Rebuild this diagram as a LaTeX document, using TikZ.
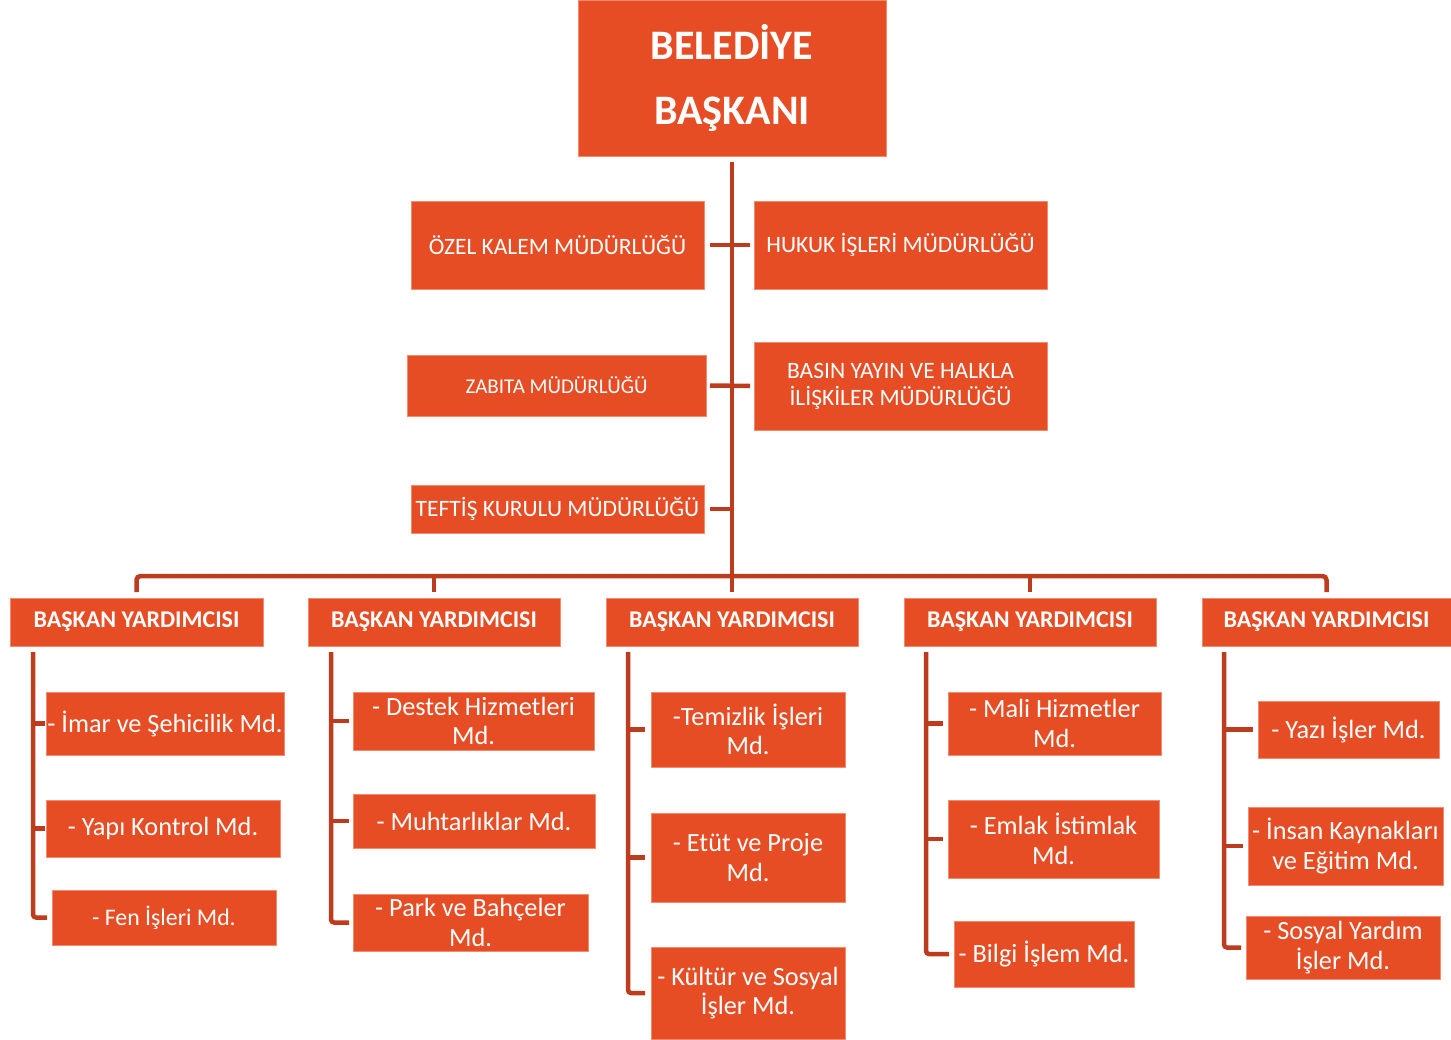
\documentclass[tikz,border=0pt]{standalone}
\usepackage{fontspec}
\setmainfont{Carlito}
\definecolor{boxfill}{RGB}{230,77,36}
\definecolor{boxline}{RGB}{242,140,110}
\definecolor{conncol}{RGB}{190,60,30}
\tikzset{
  box/.style={fill=boxfill, draw=boxline, line width=0.8pt, text=white,
    inner sep=0pt, outer sep=0pt, align=center},
  conn/.style={draw=conncol, line width=4.5pt},
  toptext/.style={font=\bfseries\fontsize{42}{65}\selectfont},
  bytext/.style={font=\bfseries\fontsize{24}{28}\selectfont},
  midtext/.style={font=\fontsize{23.5}{27}\selectfont},
  smalltext/.style={font=\fontsize{21}{25}\selectfont},
  subtext/.style={font=\fontsize{26.3}{29.5}\selectfont},
  fentext/.style={font=\fontsize{23.8}{28}\selectfont},
}
\newcommand\orgbox[7][]{\node[box,#1,minimum width={(#5-#3)*1pt},minimum height={(#6-#4)*1pt}] (#2) at ({(#3+#5)/2},{(#4+#6)/2}) {#7};}
\begin{document}
\begin{tikzpicture}[x=1pt,y=-1pt]
\useasboundingbox (0,0) rectangle (1451,1039);
% top level
\orgbox[toptext]{top}{578}{0}{886}{156}{BELEDİYE\\BAŞKANI}
\orgbox[midtext]{ozel}{411}{201}{704}{289}{ÖZEL KALEM MÜDÜRLÜĞÜ}
\orgbox[midtext]{hukuk}{754}{201}{1047}{289}{HUKUK İŞLERİ MÜDÜRLÜĞÜ}
\orgbox[smalltext]{zabita}{407}{355}{706}{416}{ZABITA MÜDÜRLÜĞÜ}
\orgbox[midtext]{basin}{754}{342}{1047}{430}{BASIN YAYIN VE HALKLA\\İLİŞKİLER MÜDÜRLÜĞÜ}
\orgbox[midtext]{teftis}{411}{485}{704}{533}{TEFTİŞ KURULU MÜDÜRLÜĞÜ}
% vice presidents
\orgbox[bytext]{by1}{10}{598}{263}{646}{BAŞKAN YARDIMCISI}
\orgbox[bytext]{by2}{308}{598}{560}{646}{BAŞKAN YARDIMCISI}
\orgbox[bytext]{by3}{606}{598}{858}{646}{BAŞKAN YARDIMCISI}
\orgbox[bytext]{by4}{904}{598}{1156}{646}{BAŞKAN YARDIMCISI}
\orgbox[bytext]{by5}{1202}{598}{1451}{646}{BAŞKAN YARDIMCISI}
% column 1
\orgbox[subtext]{imar}{46}{692}{284}{755}{- İmar ve Şehicilik Md.}
\orgbox[subtext]{yapi}{46}{800}{280}{857}{- Yapı Kontrol Md.}
\orgbox[fentext]{fen}{52}{890}{276}{945}{- Fen İşleri Md.}
% column 2
\orgbox[subtext]{destek}{353}{692}{594}{750}{- Destek Hizmetleri\\Md.}
\orgbox[subtext]{muhtar}{353}{794}{595}{848}{- Muhtarlıklar Md.}
\orgbox[subtext]{park}{353}{894}{588}{951}{- Park ve Bahçeler\\Md.}
% column 3
\orgbox[subtext]{temizlik}{651}{692}{845}{767}{-Temizlik İşleri\\Md.}
\orgbox[subtext]{etut}{651}{813}{845}{902}{- Etüt ve Proje\\Md.}
\orgbox[subtext]{kultur}{651}{947}{845}{1039}{- Kültür ve Sosyal\\İşler Md.}
% column 4
\orgbox[subtext]{mali}{948}{692}{1161}{755}{- Mali Hizmetler\\Md.}
\orgbox[subtext]{emlak}{948}{800}{1159}{878}{- Emlak İstimlak\\Md.}
\orgbox[subtext]{bilgi}{954}{921}{1134}{987}{- Bilgi İşlem Md.}
% column 5
\orgbox[subtext]{yazi}{1258}{701}{1439}{758}{- Yazı İşler Md.}
\orgbox[subtext]{insan}{1248}{807}{1443}{885}{- İnsan Kaynakları\\ve Eğitim Md.}
\orgbox[subtext]{sosyal}{1246}{916}{1440}{979}{- Sosyal Yardım\\İşler Md.}
% connectors: trunk and bar
\coordinate (bar) at (732,576);
\draw[conn] ([yshift=-6pt]top.south) -- (bar);
\draw[conn] ([xshift=6pt]ozel.east) -- ([xshift=-4pt]hukuk.west);
\draw[conn] ([xshift=4pt]zabita.east) -- ([xshift=-4pt]basin.west);
\draw[conn] ([xshift=6pt]teftis.east) -- (teftis.east -| bar);
\draw[conn, rounded corners=4pt] ([yshift=6pt]by1.north) |- (bar) -| ([yshift=6pt]by5.north);
\draw[conn] (bar) -- ([yshift=6pt]by3.north);
\draw[conn] ([yshift=6pt]by2.north) -- (by2.north |- bar);
\draw[conn] ([yshift=6pt]by4.north) -- (by4.north |- bar);
% column connectors
\coordinate (v1) at (33,652);
\coordinate (v2) at (331,652);
\coordinate (v3) at (628,652);
\coordinate (v4) at (926,652);
\coordinate (v5) at (1224,652);
\draw[conn, rounded corners=3pt] (v1) |- ([xshift=-5pt]fen.west);
\draw[conn] (imar.west -| v1) -- ([xshift=-1pt]imar.west);
\draw[conn] (yapi.west -| v1) -- ([xshift=-1pt]yapi.west);
\draw[conn, rounded corners=3pt] (v2) |- ([xshift=-4pt]park.west);
\draw[conn] (destek.west -| v2) -- ([xshift=-4pt]destek.west);
\draw[conn] (muhtar.west -| v2) -- ([xshift=-4pt]muhtar.west);
\draw[conn, rounded corners=3pt] (v3) |- ([xshift=-6pt]kultur.west);
\draw[conn] (temizlik.west -| v3) -- ([xshift=-6pt]temizlik.west);
\draw[conn] (etut.west -| v3) -- ([xshift=-6pt]etut.west);
\draw[conn, rounded corners=3pt] (v4) |- ([xshift=-5pt]bilgi.west);
\draw[conn] (mali.west -| v4) -- ([xshift=-5pt]mali.west);
\draw[conn] (emlak.west -| v4) -- ([xshift=-5pt]emlak.west);
\draw[conn, rounded corners=3pt] (v5) |- ([xshift=-5pt]sosyal.west);
\draw[conn] (yazi.west -| v5) -- ([xshift=-5pt]yazi.west);
\draw[conn] (insan.west -| v5) -- ([xshift=-5pt]insan.west);
\end{tikzpicture}
\end{document}
